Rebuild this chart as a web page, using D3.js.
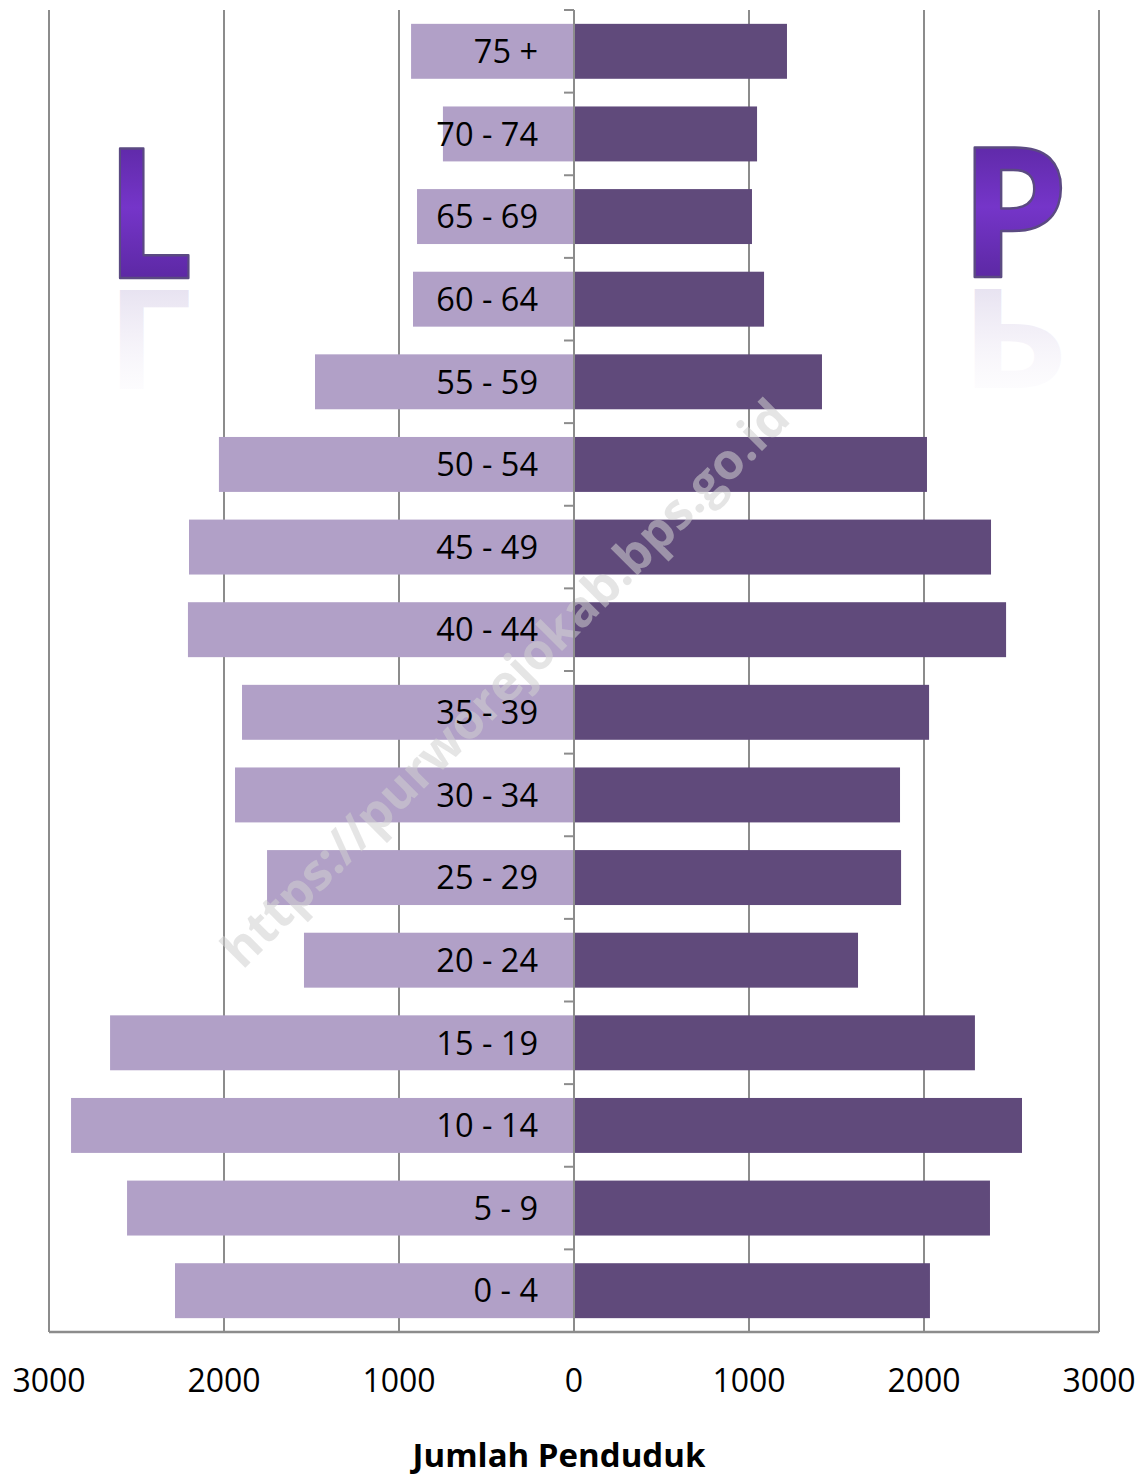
<!DOCTYPE html>
<html><head><meta charset="utf-8">
<script src="https://cdn.jsdelivr.net/npm/d3@7"></script>
<style>body{margin:0;background:#fff}svg{display:block}</style>
</head><body>
<svg id="c" width="1146" height="1477"></svg>
<script>
const categories = ["75 +","70 - 74","65 - 69","60 - 64","55 - 59","50 - 54","45 - 49","40 - 44","35 - 39","30 - 34","25 - 29","20 - 24","15 - 19","10 - 14","5 - 9","0 - 4"];
const male   = [931, 749, 897, 920, 1480, 2029, 2200, 2206, 1897, 1937, 1754, 1543, 2651, 2874, 2554, 2280];
const female = [1217, 1046, 1017, 1086, 1417, 2017, 2383, 2469, 2029, 1863, 1869, 1623, 2291, 2560, 2377, 2034];
const tickValues = [-3000,-2000,-1000,0,1000,2000,3000];
const axisTitle = "Jumlah Penduduk";
const watermark = "https://purworejokab.bps.go.id";
const sideLetters = ["L","P"];

(function(){
const svg = d3.select("#c");
const pL = 49, pR = 1099, pT = 10, pB = 1332;
const x = d3.scaleLinear().domain([-3000,3000]).range([pL,pR]);
const y = d3.scaleBand().domain(categories).range([pT,pB]).paddingInner(0.335).paddingOuter(0.1675);

const defs = svg.append("defs");
const g1 = defs.append("linearGradient").attr("id","lg").attr("x1",0).attr("y1",0).attr("x2",0).attr("y2",1);
g1.append("stop").attr("offset","0%").attr("stop-color","#4a1f88");
g1.append("stop").attr("offset","50%").attr("stop-color","#7535c9");
g1.append("stop").attr("offset","100%").attr("stop-color","#4a1f88");
const g2 = defs.append("linearGradient").attr("id","rg").attr("x1",0).attr("y1",0).attr("x2",0).attr("y2",1);
g2.append("stop").attr("offset","0%").attr("stop-color","#ffffff").attr("stop-opacity",0);
g2.append("stop").attr("offset","55%").attr("stop-color","#ebe6f3").attr("stop-opacity",0.6);
g2.append("stop").attr("offset","100%").attr("stop-color","#d6cfe6").attr("stop-opacity",0.9);

// gridlines
svg.append("g").selectAll("line").data(tickValues.filter(d=>d!==0)).join("line")
  .attr("x1",d=>x(d)).attr("x2",d=>x(d)).attr("y1",pT).attr("y2",pB)
  .attr("stroke","#8c8c8c").attr("stroke-width",2);

// bars
svg.append("g").selectAll("rect").data(categories).join("rect")
  .attr("x",(d,i)=>x(-male[i])).attr("width",(d,i)=>x(0)-x(-male[i]))
  .attr("y",d=>y(d)).attr("height",y.bandwidth()).attr("fill","#b1a0c7");
svg.append("g").selectAll("rect").data(categories).join("rect")
  .attr("x",x(0)).attr("width",(d,i)=>x(female[i])-x(0))
  .attr("y",d=>y(d)).attr("height",y.bandwidth()).attr("fill","#604a7b");

// watermark
svg.append("text").attr("transform","translate(508,686) rotate(-45)")
  .attr("text-anchor","middle").attr("dominant-baseline","middle")
  .attr("font-family","'Open Sans', sans-serif").attr("font-weight","bold").attr("font-size",50)
  .attr("fill","#cfcfcf").attr("fill-opacity",0.55).text(watermark);

// center axis with ticks
svg.append("line").attr("x1",x(0)).attr("x2",x(0)).attr("y1",pT).attr("y2",pB)
  .attr("stroke","#8c8c8c").attr("stroke-width",2);
const step = (pB-pT)/categories.length;
svg.append("g").selectAll("line").data(d3.range(categories.length+1)).join("line")
  .attr("x1",x(0)-10).attr("x2",x(0)).attr("y1",i=>pT+i*step).attr("y2",i=>pT+i*step)
  .attr("stroke","#8c8c8c").attr("stroke-width",2);

// bottom axis
svg.append("line").attr("x1",pL).attr("x2",pR).attr("y1",pB).attr("y2",pB)
  .attr("stroke","#8c8c8c").attr("stroke-width",2.5);

// category labels
svg.append("g").selectAll("text").data(categories).join("text")
  .attr("x",538).attr("y",d=>y(d)+y.bandwidth()/2).attr("dy","0.36em")
  .attr("text-anchor","end").attr("font-family","'Open Sans', sans-serif").attr("font-size",32.5)
  .attr("fill","#000").text(d=>d);

// tick labels
svg.append("g").selectAll("text").data(tickValues).join("text")
  .attr("x",d=>x(d)).attr("y",1392).attr("text-anchor","middle")
  .attr("font-family","'Open Sans',sans-serif")
  .attr("font-size",32).attr("fill","#000").text(d=>Math.abs(d));

svg.append("text").attr("x",559).attr("y",1467).attr("text-anchor","middle")
  .attr("font-family","'Open Sans', sans-serif").attr("font-weight","bold").attr("font-size",33)
  .attr("fill","#000").text(axisTitle);

// big letters with reflection, fitted into target boxes
const boxes = [[114,148,186,278],[969,148,1059,277]];
sideLetters.forEach((ch,k)=>{
  const [bx0,by0,bx1,by1] = boxes[k];
  const grp = svg.append("g");
  const t = grp.append("text").attr("x",0).attr("y",0)
    .attr("font-family","'Open Sans', sans-serif").attr("font-weight","bold").attr("font-size",180)
    .attr("fill","url(#lg)").attr("stroke","#5b4a82").attr("stroke-width",2.5)
    .attr("stroke-linejoin","round").text(ch);
  const bb = t.node().getBBox();
  const capH = 180*0.714;
  const inkW = bb.width*0.82;
  const sx = (bx1-bx0)/inkW, sy = (by1-by0)/capH;
  const inkX0 = bb.x + bb.width*0.09;
  grp.attr("transform",`translate(${bx0 - inkX0*sx},${by1}) scale(${sx},${sy})`);
  const rg = svg.append("g")
    .attr("transform",`translate(${bx0 - inkX0*sx},${by1+12}) scale(${sx},${-sy*0.76})`);
  rg.append("text").attr("x",0).attr("y",0)
    .attr("font-family","'Open Sans', sans-serif").attr("font-weight","bold").attr("font-size",180)
    .attr("fill","url(#rg)").text(ch);
});
})();
</script>
</body></html>
